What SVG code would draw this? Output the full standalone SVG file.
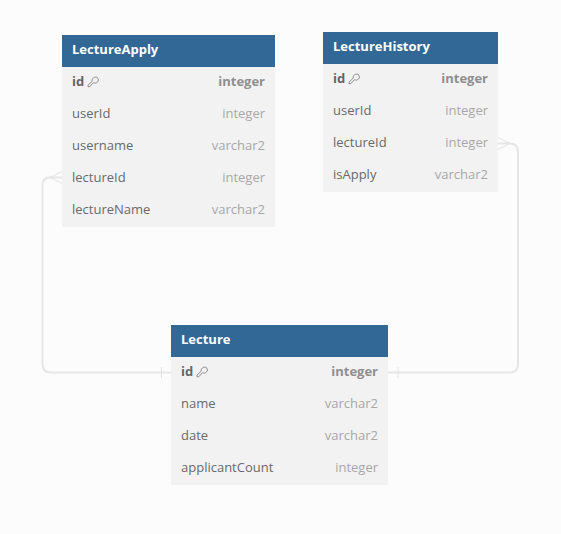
<svg xmlns="http://www.w3.org/2000/svg" width="561" height="534" viewBox="0 0 561 534">
<style>
text{font-family:"Open Sans","Noto Sans","Liberation Sans",sans-serif;font-size:13px}
.body{fill:#f2f2f2}
.head{fill:#316896}
.title{fill:#fff;font-weight:700}
.n{fill:#6a6a6a}
.t{fill:#a8a8a8;text-anchor:end}
.pkn{fill:#666;font-weight:700}
.pkt{fill:#8f8f8f;font-weight:700;text-anchor:end}
.conn{fill:none;stroke:#e6e6e6;stroke-width:2}
.thin{fill:none;stroke:#e3e3e3;stroke-width:1}
.key{fill:none;stroke:#808080;stroke-width:.9}
</style>
<defs>
<path id="key" class="key" d="M0 3.200 4.200-.8C3.600-3.500 6.500-5.500 8.800-4.700 10.800-3.800 10.900-1 9.300.2 8.200 1.200 6.800 1.300 5.500.7L1.800 4.700H0Z"/>
</defs>
<rect width="561" height="534" fill="#fcfcfc"/>
<g id="connectors">
<path class="conn" d="M62 177.500H50Q42.500 177.500 42.500 185V364Q42.500 372.500 51 372.500H171"/>
<path class="thin" d="M62 171.500 50 177.500 62 183.500"/>
<path class="thin" d="M161.500 367V378"/>
<path class="conn" d="M498 143.500H510Q518 143.500 518 152V364Q518 372.500 510 372.500H388"/>
<path class="thin" d="M498 137.500 510 143.500 498 149.500"/>
<path class="thin" d="M398 367V378"/>
</g>
<g id="LectureApply">
<rect class="body" x="62" y="35" width="213" height="192"/>
<rect class="head" x="62" y="35" width="213" height="32"/>
<text class="title" x="72" y="54">LectureApply</text>
<text class="pkn" x="72" y="86">id</text><use href="#key" x="88" y="82"/><text class="pkt" x="265" y="86">integer</text>
<text class="n" x="72" y="118">userId</text><text class="t" x="265" y="118">integer</text>
<text class="n" x="72" y="150">username</text><text class="t" x="265" y="150">varchar2</text>
<text class="n" x="72" y="182">lectureId</text><text class="t" x="265" y="182">integer</text>
<text class="n" x="72" y="214">lectureName</text><text class="t" x="265" y="214">varchar2</text>
</g>
<g id="LectureHistory">
<rect class="body" x="323" y="32" width="175" height="160"/>
<rect class="head" x="323" y="32" width="175" height="32"/>
<text class="title" x="333" y="51">LectureHistory</text>
<text class="pkn" x="333" y="83">id</text><use href="#key" x="349" y="79"/><text class="pkt" x="488" y="83">integer</text>
<text class="n" x="333" y="115">userId</text><text class="t" x="488" y="115">integer</text>
<text class="n" x="333" y="147">lectureId</text><text class="t" x="488" y="147">integer</text>
<text class="n" x="333" y="179">isApply</text><text class="t" x="488" y="179">varchar2</text>
</g>
<g id="Lecture">
<rect class="body" x="171" y="325" width="217" height="160"/>
<rect class="head" x="171" y="325" width="217" height="32"/>
<text class="title" x="181" y="344">Lecture</text>
<text class="pkn" x="181" y="376">id</text><use href="#key" x="197" y="372"/><text class="pkt" x="378" y="376">integer</text>
<text class="n" x="181" y="408">name</text><text class="t" x="378" y="408">varchar2</text>
<text class="n" x="181" y="440">date</text><text class="t" x="378" y="440">varchar2</text>
<text class="n" x="181" y="472">applicantCount</text><text class="t" x="378" y="472">integer</text>
</g>
</svg>
